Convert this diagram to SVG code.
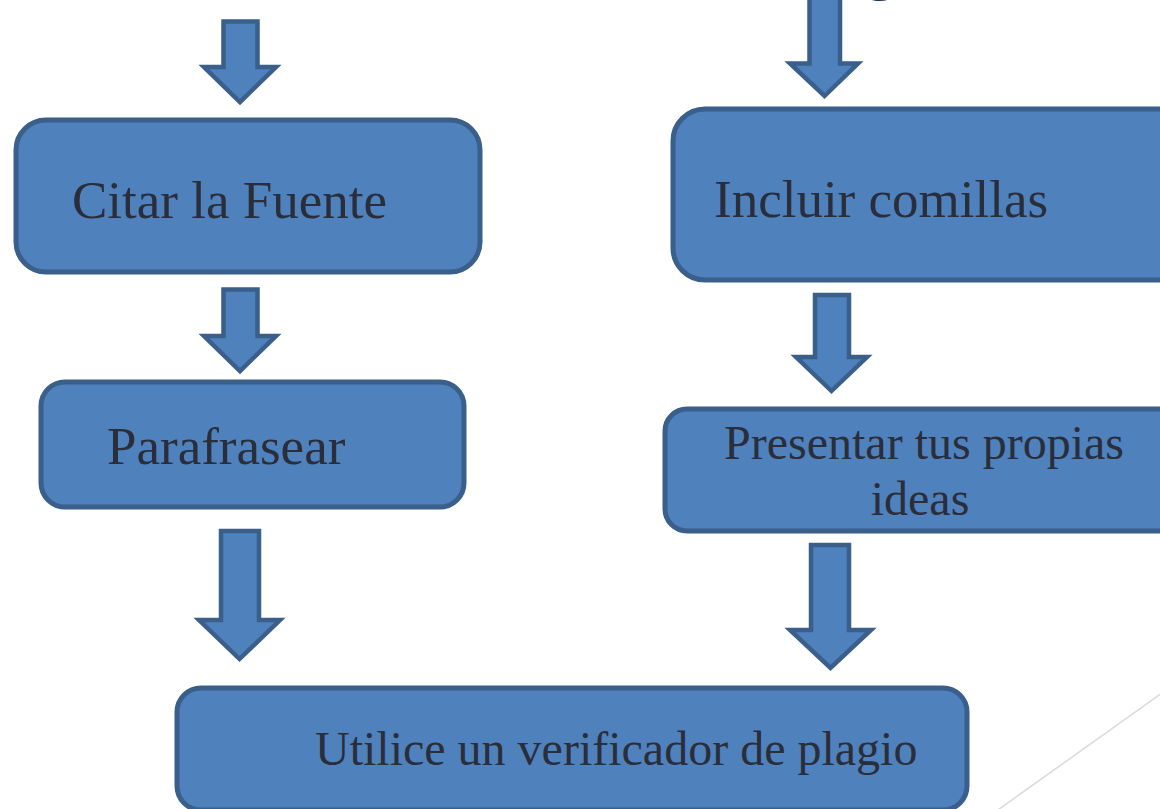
<svg xmlns="http://www.w3.org/2000/svg" width="1160" height="809" viewBox="0 0 1160 809">
<style>
.box{fill:#4f81bd;stroke:#3a5f8b;stroke-width:5}
.arr{fill:#4f81bd;stroke:#3a5f8b;stroke-width:4.5;stroke-linejoin:miter}
.lbl{font-family:"Liberation Serif","Times New Roman",serif;fill:#2a2d3a}
</style>
<rect width="1160" height="809" fill="#ffffff"/>
<text x="881" y="-14" text-anchor="middle" font-family="Liberation Sans, Arial, sans-serif" font-weight="bold" font-size="70" fill="#1f2d5c">g</text>
<line x1="995" y1="812" x2="1162" y2="693" stroke="#d9d9d9" stroke-width="1.5"/>
<g id="connectors">
<path class="arr" d="M223.5,21.5 H257.5 V67 H276 L240,102 L204,67 H223.5 Z"/>
<path class="arr" d="M809.5,-5 H840 V63.5 H858 L824.5,96 L790,63.5 H809.5 Z"/>
<path class="arr" d="M223.5,289.5 H257.5 V336 H276 L240,371 L204,336 H223.5 Z"/>
<path class="arr" d="M815,295 H849 V357 H867 L831.5,391 L796,357 H815 Z"/>
<path class="arr" d="M221,531 H259 V620 H280 L239.5,659 L199,620 H221 Z"/>
<path class="arr" d="M811,545 H849 V630 H871 L830.5,668 L790,630 H811 Z"/>
</g>
<g id="node-citar">
<rect class="box" x="16" y="120" width="464" height="152" rx="30"/>
<text class="lbl" x="72" y="218" font-size="53">Citar la Fuente</text>
</g>
<g id="node-incluir">
<rect class="box" x="673" y="109" width="530" height="171" rx="32"/>
<text class="lbl" x="714" y="217" font-size="53">Incluir comillas</text>
</g>
<g id="node-parafrasear">
<rect class="box" x="41" y="382" width="423" height="125" rx="24"/>
<text class="lbl" x="107" y="464" font-size="53">Parafrasear</text>
</g>
<g id="node-presentar">
<rect class="box" x="665" y="409" width="530" height="122" rx="22"/>
<text class="lbl" font-size="48" text-anchor="middle"><tspan x="924" y="459">Presentar tus propias</tspan><tspan x="920" y="515">ideas</tspan></text>
</g>
<g id="node-utilice">
<rect class="box" x="177" y="688" width="790" height="122" rx="24"/>
<text class="lbl" x="315" y="765" font-size="48">Utilice un verificador de plagio</text>
</g>
</svg>
